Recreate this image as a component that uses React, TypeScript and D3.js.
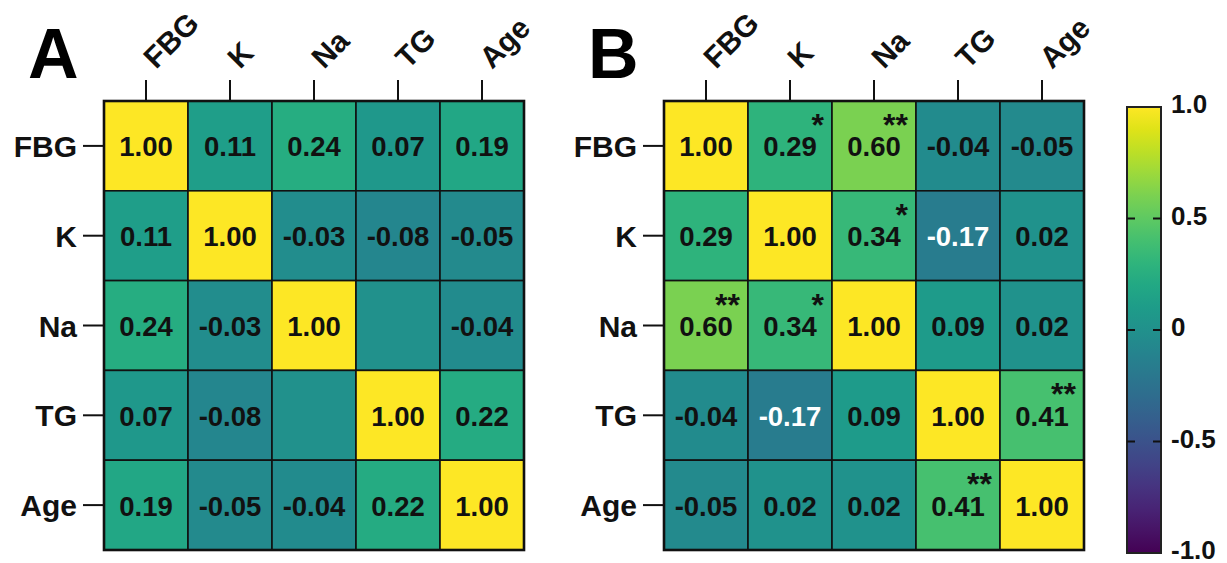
import React from "react";
import * as d3 from "d3";

const variables = ["FBG", "K", "Na", "TG", "Age"];

// Panel A correlation matrix (null = blank cell)
const matrixA: (number | null)[][] = [
  [1.0, 0.11, 0.24, 0.07, 0.19],
  [0.11, 1.0, -0.03, -0.08, -0.05],
  [0.24, -0.03, 1.0, null, -0.04],
  [0.07, -0.08, null, 1.0, 0.22],
  [0.19, -0.05, -0.04, 0.22, 1.0],
];

// Panel B correlation matrix
const matrixB: (number | null)[][] = [
  [1.0, 0.29, 0.6, -0.04, -0.05],
  [0.29, 1.0, 0.34, -0.17, 0.02],
  [0.6, 0.34, 1.0, 0.09, 0.02],
  [-0.04, -0.17, 0.09, 1.0, 0.41],
  [-0.05, 0.02, 0.02, 0.41, 1.0],
];

// Significance marks for panel B
const sigB: string[][] = [
  ["", "*", "**", "", ""],
  ["", "", "*", "", ""],
  ["**", "*", "", "", ""],
  ["", "", "", "", "**"],
  ["", "", "", "**", ""],
];
const sigA: string[][] = variables.map(() => variables.map(() => ""));

const colorbarTicks = [1, 0.5, 0, -0.5, -1];
const colorbarTickLabels = ["1.0", "0.5", "0", "-0.5", "-1.0"];

const FONT = "'Liberation Sans', Arial, sans-serif";
const W = 1227;
const H = 563;

const color = d3.scaleSequential(d3.interpolateViridis).domain([-1, 1]);

function Panel({
  x0,
  y0,
  label,
  matrix,
  sig,
}: {
  x0: number;
  y0: number;
  label: string;
  matrix: (number | null)[][];
  sig: string[][];
}) {
  const x = d3.scaleBand<string>().domain(variables).range([x0, x0 + 420]);
  const y = d3.scaleBand<string>().domain(variables).range([y0, y0 + 449]);
  const bw = x.bandwidth();
  const bh = y.bandwidth();
  return (
    <g>
      <text
        x={x0 - 76}
        y={y0 - 23}
        fontFamily={FONT}
        fontWeight="bold"
        fontSize={70}
        fill="#000"
      >
        {label}
      </text>
      {matrix.map((row, i) =>
        row.map((v, j) => {
          const cx = x(variables[j])!;
          const cy = y(variables[i])!;
          return (
            <g key={`${i}-${j}`}>
              <rect
                x={cx}
                y={cy}
                width={bw}
                height={bh}
                fill={color(v === null ? 0 : v)}
                stroke="#111"
                strokeWidth={1.6}
              />
              {v !== null && (
                <text
                  x={cx + bw / 2}
                  y={cy + bh / 2 + 10.5}
                  textAnchor="middle"
                  fontFamily={FONT}
                  fontWeight="bold"
                  fontSize={27.5}
                  fill={v <= -0.15 ? "#fff" : "#111"}
                >
                  {v.toFixed(2)}
                </text>
              )}
              {sig[i][j] && (
                <text
                  x={cx + bw - 8}
                  y={cy + 35}
                  textAnchor="end"
                  fontFamily={FONT}
                  fontWeight="bold"
                  fontSize={32}
                  fill="#111"
                >
                  {sig[i][j]}
                </text>
              )}
            </g>
          );
        })
      )}
      <rect
        x={x0}
        y={y0}
        width={420}
        height={449}
        fill="none"
        stroke="#111"
        strokeWidth={2.6}
      />
      {variables.map((v) => {
        const tx = x(v)! + bw / 2;
        return (
          <g key={"top" + v}>
            <line x1={tx} x2={tx} y1={y0 - 21} y2={y0} stroke="#111" strokeWidth={2} />
            <text
              transform={`translate(${tx + 10},${y0 - 31}) rotate(-45)`}
              fontFamily={FONT}
              fontWeight="bold"
              fontSize={30}
              fill="#111"
            >
              {v}
            </text>
          </g>
        );
      })}
      {variables.map((v) => {
        const ty = y(v)! + bh / 2;
        return (
          <g key={"left" + v}>
            <line x1={x0 - 21} x2={x0} y1={ty} y2={ty} stroke="#111" strokeWidth={2} />
            <text
              x={x0 - 27}
              y={ty + 11}
              textAnchor="end"
              fontFamily={FONT}
              fontWeight="bold"
              fontSize={30}
              fill="#111"
            >
              {v}
            </text>
          </g>
        );
      })}
    </g>
  );
}

function ColorBar() {
  const cbX = 1127;
  const cbW = 34;
  const yScale = d3.scaleLinear().domain([-1, 1]).range([553, 107]);
  const stops = d3.range(0, 1.0001, 0.05);
  return (
    <g>
      <defs>
        <linearGradient id="cbgrad" x1="0" y1="1" x2="0" y2="0">
          {stops.map((t) => (
            <stop key={t} offset={`${t * 100}%`} stopColor={d3.interpolateViridis(t)} />
          ))}
        </linearGradient>
      </defs>
      <rect
        x={cbX}
        y={yScale(1)}
        width={cbW}
        height={yScale(-1) - yScale(1)}
        fill="url(#cbgrad)"
        stroke="#222"
        strokeWidth={2}
      />
      {colorbarTicks.map((t, i) => {
        const ty = yScale(t);
        const inner = t !== 1 && t !== -1;
        return (
          <g key={t}>
            {inner && (
              <>
                <line x1={cbX} x2={cbX + 8} y1={ty} y2={ty} stroke="#111" strokeWidth={2} />
                <line x1={cbX + cbW - 8} x2={cbX + cbW} y1={ty} y2={ty} stroke="#111" strokeWidth={2} />
              </>
            )}
            <text
              x={cbX + 44}
              y={ty + 6}
              fontFamily={FONT}
              fontWeight="bold"
              fontSize={26}
              fill="#111"
            >
              {colorbarTickLabels[i]}
            </text>
          </g>
        );
      })}
    </g>
  );
}

export default function App() {
  return (
    <svg
      width={W}
      height={H}
      style={{ position: "absolute", left: 0, top: 0, background: "#fff" }}
    >
      <rect x={0} y={0} width={W} height={H} fill="#fff" />
      <Panel x0={104} y0={101} label="A" matrix={matrixA} sig={sigA} />
      <Panel x0={664} y0={101} label="B" matrix={matrixB} sig={sigB} />
      <ColorBar />
    </svg>
  );
}
